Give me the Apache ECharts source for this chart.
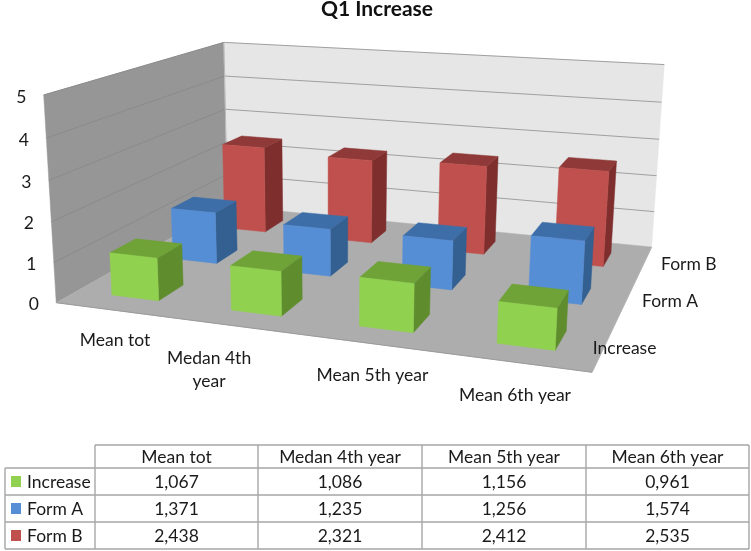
<!DOCTYPE html>
<html><head><meta charset="utf-8">
<style>html,body{margin:0;padding:0;background:#fff}#c{width:751px;height:551px}</style>
<script src="https://cdn.jsdelivr.net/npm/echarts@6/dist/echarts.min.js"></script>
</head><body><div id="c"></div>
<script>
const categories = ['Mean tot', 'Medan 4th year', 'Mean 5th year', 'Mean 6th year'];
const seriesNames = ['Increase', 'Form A', 'Form B'];
const increase = [1.067, 1.086, 1.156, 0.961];
const formA = [1.371, 1.235, 1.256, 1.574];
const formB = [2.438, 2.321, 2.412, 2.535];
const yTicks = [0, 1, 2, 3, 4, 5];

const seriesValues = [increase, formA, formB];
const FONT = '"Lato","Open Sans",sans-serif';
const TEXT = '17.5px ' + FONT;
const faceColors = [
  {front:'#90d24f', top:'#6fa237', side:'#5f8d2e'},
  {front:'#558ed5', top:'#3e6ea8', side:'#335f91'},
  {front:'#c0504d', top:'#8f3a38', side:'#7e2e2d'}
];

// Camera calibration: plot-box corners (u, v, w) seen at these picture positions
const calib = [
  [0,0,0, 57,302],[0,1,0, 226.7,207],[1,1,0, 652,246],[1,0,0, 592,373],
  [0,0,1, 43,95],[0,1,1, 224.7,42],[1,1,1, 664,65]
];
function solveCamera(pts){
  const A=[],b=[];
  pts.forEach(([X,Y,Z,xp,yp])=>{
    const x=xp/100,y=yp/100;
    A.push([X,Y,Z,1,0,0,0,0,-x*X,-x*Y,-x*Z]);b.push(x);
    A.push([0,0,0,0,X,Y,Z,1,-y*X,-y*Y,-y*Z]);b.push(y);
  });
  const n=11,M=[];
  for(let i=0;i<n;i++){const r=new Array(n+1).fill(0);
    for(let k=0;k<A.length;k++){for(let j=0;j<n;j++)r[j]+=A[k][i]*A[k][j];r[n]+=A[k][i]*b[k];}
    M.push(r);}
  for(let i=0;i<n;i++){let p=i;for(let r=i+1;r<n;r++)if(Math.abs(M[r][i])>Math.abs(M[p][i]))p=r;
    [M[i],M[p]]=[M[p],M[i]];
    for(let r=0;r<n;r++){if(r===i)continue;const f=M[r][i]/M[i][i];for(let c=i;c<=n;c++)M[r][c]-=f*M[i][c];}}
  return M.map((r,i)=>r[n]/r[i]);
}
const P=solveCamera(calib);
function proj(u,v,w){
  const d=P[8]*u+P[9]*v+P[10]*w+1;
  return [100*(P[0]*u+P[1]*v+P[2]*w+P[3])/d,100*(P[4]*u+P[5]*v+P[6]*w+P[7])/d];
}
const W=751,H=551;
const barU=0.40, barV=0.40;
const poly=(pts,fill,stroke)=>({type:'polygon',shape:{points:pts},style:{fill,stroke:stroke||fill,lineWidth:stroke?1:0.5},silent:true});
const seg=(a,b,color,lw)=>({type:'line',shape:{x1:a[0],y1:a[1],x2:b[0],y2:b[1]},style:{stroke:color,lineWidth:lw||1},silent:true});
const txt=(s,x,y,o)=>({type:'text',style:Object.assign({text:s,x,y,fill:'#1a1a1a',font:TEXT,textAlign:'center',textVerticalAlign:'middle'},o||{}),silent:true});

function renderBox(j){
  return function(params,api){
    const i=api.value(0),val=api.value(1);
    const c=api.coord([i,val]);
    const uc=c[0]/W, w=(H-c[1])/H;
    const vc=(j+0.5)/seriesNames.length;
    const du=barU/categories.length/2, dv=barV/seriesNames.length/2;
    const u0=uc-du,u1=uc+du,v0=vc-dv,v1=vc+dv;
    const col=faceColors[j];
    return {type:'group',children:[
      poly([proj(u1,v0,0),proj(u1,v1,0),proj(u1,v1,w),proj(u1,v0,w)],col.side),
      poly([proj(u0,v0,w),proj(u1,v0,w),proj(u1,v1,w),proj(u0,v1,w)],col.top),
      poly([proj(u0,v0,0),proj(u1,v0,0),proj(u1,v0,w),proj(u0,v0,w)],col.front)
    ]};
  };
}
function renderWalls(params,api){
  const ch=[
    poly([proj(0,0,0),proj(0,1,0),proj(0,1,1),proj(0,0,1)],'#969696'),
    poly([proj(0,1,0),proj(1,1,0),proj(1,1,1),proj(0,1,1)],'#e6e6e6'),
    poly([proj(0,0,0),proj(1,0,0),proj(1,1,0),proj(0,1,0)],'#adadad')
  ];
  yTicks.forEach(t=>{
    const w=(H-api.coord([0,t])[1])/H;
    if(t>0){
      ch.push(seg(proj(0,1,w),proj(1,1,w),'#a0a0a0',1));
      ch.push(seg(proj(0,0,w),proj(0,1,w),'#8b8b8b',1));
    }
    const p=proj(0,0,w);
    ch.push(txt(String(t),p[0]-22.5,p[1]+2));
  });
  ch.push(seg(proj(0,0,0),proj(1,0,0),'#9a9a9a',1));
  ch.push(seg(proj(1,0,0),proj(1,1,0),'#b4b4b4',1));
  ch.push(seg(proj(0,1,1),proj(0,1,0),'#b8b8b8',1));
  // category labels under the front edge
  const catNudge=[[0,30],[-30,43],[0,32],[-1,33]];
  categories.forEach((c,i)=>{
    const x=api.coord([i,0])[0]/W;
    const p=proj(x,0,0);
    const lx=p[0]+catNudge[i][0], ly=p[1]+catNudge[i][1];
    const parts=c==='Medan 4th year'?['Medan 4th','year']:[c];
    parts.forEach((s,k)=>ch.push(txt(s,lx,ly+(k-(parts.length-1)/2)*23)));
  });
  // depth labels beside the right edge
  const depthNudge=[[20,2],[44,1],[45,1]];
  seriesNames.forEach((s,j)=>{
    const p=proj(1,(j+0.5)/seriesNames.length,0);
    ch.push(txt(s,p[0]+depthNudge[j][0],p[1]+depthNudge[j][1]));
  });
  return {type:'group',children:ch};
}

// Data table
const colX=[95,258,422,586,749], rowY=[445,468,495,522,549], tableLeft=5;
const tableLine='#a6a6a6';
const graphic=[];
const gl=(x1,y1,x2,y2)=>graphic.push({type:'line',shape:{x1,y1,x2,y2},style:{stroke:tableLine,lineWidth:1.4},silent:true});
colX.forEach(x=>gl(x,rowY[0],x,rowY[4]));
rowY.forEach((y,r)=>gl(r===0?colX[0]:(tableLeft),y,colX[4],y));
gl(tableLeft,rowY[1],tableLeft,rowY[4]);
categories.forEach((c,i)=>graphic.push({type:'text',style:{text:c,x:(colX[i]+colX[i+1])/2,y:(rowY[0]+rowY[1])/2+0.5,fill:'#1a1a1a',font:TEXT,textAlign:'center',textVerticalAlign:'middle'},silent:true}));
seriesNames.forEach((s,j)=>{
  const y=(rowY[j+1]+rowY[j+2])/2;
  graphic.push({type:'rect',shape:{x:11,y:y-5.5,width:10,height:11},style:{fill:faceColors[j].front},silent:true});
  graphic.push({type:'text',style:{text:s,x:27,y:y+0.5,fill:'#1a1a1a',font:TEXT,textAlign:'left',textVerticalAlign:'middle'},silent:true});
  seriesValues[j].forEach((v,i)=>graphic.push({type:'text',style:{text:v.toFixed(3).replace('.',','),x:(colX[i]+colX[i+1])/2,y:y+0.5,fill:'#1a1a1a',font:TEXT,textAlign:'center',textVerticalAlign:'middle'},silent:true}));
});

const series=[{type:'custom',name:'walls',silent:true,animation:false,renderItem:renderWalls,data:[[0,0]],encode:{x:0,y:1},clip:false,z:1}];
[2,1,0].forEach((j,k)=>series.push({
  type:'custom',name:seriesNames[j],silent:true,animation:false,clip:false,z:2+k,
  renderItem:renderBox(j),encode:{x:0,y:1},
  data:seriesValues[j].map((v,i)=>[i,v])
}));

const chart=echarts.init(document.getElementById('c'),null,{renderer:'canvas'});
chart.setOption({
  animation:false,
  backgroundColor:'#fff',
  title:{text:'Q1 Increase',left:372,textAlign:'center',top:-6,textStyle:{fontFamily:FONT,fontSize:21,fontWeight:'bold',color:'#111'}},
  grid:{left:0,right:0,top:0,bottom:0,containLabel:false},
  xAxis:{type:'category',data:categories,show:false,boundaryGap:true},
  yAxis:{type:'value',min:0,max:5,interval:1,show:false},
  graphic:graphic,
  series:series
});
</script></body></html>
